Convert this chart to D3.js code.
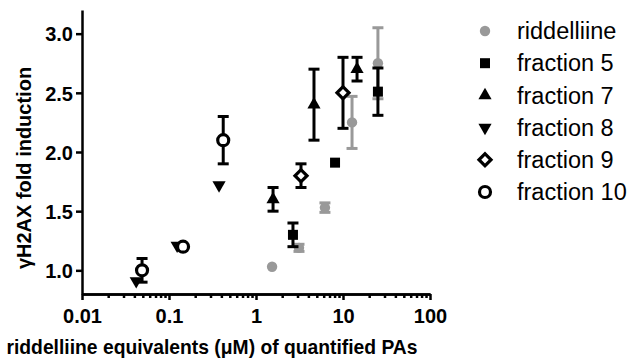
<!DOCTYPE html>
<html lang="en">
<head>
<meta charset="UTF-8">
<title>gH2AX fold induction</title>
<style>
    body { margin: 0; background: #fff; }
    svg text { font-family: "Liberation Sans", Arial, sans-serif; }
    .axis path, .axis line { fill: none; stroke: #000; stroke-width: 2.5px; }
    .axis text { font-size: 20px; font-weight: bold; fill: #000; }
</style>
</head>
<body>
<div id="chart"></div>
<script src="https://cdn.jsdelivr.net/npm/d3@7"></script>
<script>
// data
const seriesNames = ["riddelliine", "fraction 5", "fraction 7", "fraction 8", "fraction 9", "fraction 10"];

const riddX = [1.53, 3.12, 6.2, 12.7, 25.2];
const riddY = [1.03, 1.19, 1.53, 2.25, 2.75];
const riddErr = [0, 0.03, 0.04, 0.22, 0.3];

const f5X = [2.66, 8.1, 25.2];
const f5Y = [1.30, 1.91, 2.51];
const f5Err = [0.1, 0, 0.2];

const f7X = [1.57, 4.64, 14.5];
const f7Y = [1.60, 2.40, 2.70];
const f7Err = [0.1, 0.3, 0.1];

const f8X = [0.042, 0.124, 0.376];
const f8Y = [0.91, 1.21, 1.72];
const f8Err = [0, 0, 0];

const f9X = [3.29, 10.0];
const f9Y = [1.80, 2.50];
const f9Err = [0.1, 0.3];

const f10X = [0.049, 0.145, 0.42];
const f10Y = [1.00, 1.20, 2.10];
const f10Err = [0.1, 0, 0.2];

const xTicks = [0.01, 0.1, 1, 10, 100];
const yTicks = [1.0, 1.5, 2.0, 2.5, 3.0];

const W = 630, H = 364;
const svg = d3.select("#chart").append("svg").attr("width", W).attr("height", H);

const x = d3.scaleLog().domain([0.01, 100]).range([82, 430]);
const y = d3.scaleLinear().domain([0.8, 3.2]).range([294, 10]);

// axes
const minor = [];
for (let d = 0.01; d < 100; d *= 10) {
    for (let k = 2; k <= 9; k++) minor.push(+(d * k).toPrecision(3));
}
svg.append("g").attr("class", "axis").attr("transform", "translate(0,294)")
    .call(d3.axisBottom(x).tickValues(minor).tickSize(4).tickFormat("").tickSizeOuter(0));
const gx = svg.append("g").attr("class", "axis").attr("transform", "translate(0,294)")
    .call(d3.axisBottom(x).tickValues(xTicks).tickSize(6).tickSizeOuter(0)
        .tickFormat(d => String(d)));
gx.selectAll("text").attr("dy", "1.0em").attr("y", 9);

const gy = svg.append("g").attr("class", "axis").attr("transform", "translate(82,0)")
    .call(d3.axisLeft(y).tickValues(yTicks).tickSize(6).tickSizeOuter(0).tickFormat(d3.format(".1f")));
gy.selectAll("text").attr("x", -9).attr("dy", "0.36em");

svg.append("text").attr("x", 212).attr("y", 354).attr("text-anchor", "middle")
    .attr("font-size", 19.3).attr("font-weight", "bold")
    .text("riddelliine equivalents (\u03BCM) of quantified PAs");
svg.append("text").attr("transform", "translate(31,168) rotate(-90)")
    .attr("text-anchor", "middle").attr("font-size", 20).attr("font-weight", "bold")
    .text("\u03B3H2AX fold induction");

// series
const gray = "#999999";
const series = [
    { name: seriesNames[0], xs: riddX, ys: riddY, es: riddErr, type: d3.symbolCircle, size: 85, rot: 0, color: gray, open: false },
    { name: seriesNames[1], xs: f5X, ys: f5Y, es: f5Err, type: d3.symbolSquare, size: 100, rot: 0, color: "#000", open: false },
    { name: seriesNames[2], xs: f7X, ys: f7Y, es: f7Err, type: d3.symbolTriangle, size: 75, rot: 0, color: "#000", open: false },
    { name: seriesNames[3], xs: f8X, ys: f8Y, es: f8Err, type: d3.symbolTriangle, size: 75, rot: 180, color: "#000", open: false },
    { name: seriesNames[4], xs: f9X, ys: f9Y, es: f9Err, type: d3.symbolSquare, size: 72, rot: 45, color: "#000", open: true },
    { name: seriesNames[5], xs: f10X, ys: f10Y, es: f10Err, type: d3.symbolCircle, size: 95, rot: 0, color: "#000", open: true }
];

function drawMarker(g, s) {
    g.append("path").attr("d", d3.symbol().type(s.type).size(s.size)())
        .attr("transform", `rotate(${s.rot})`)
        .attr("fill", s.open ? "#fff" : s.color)
        .attr("stroke", s.open ? s.color : "none")
        .attr("stroke-width", 3.2);
}

series.forEach(s => {
    const g = svg.append("g");
    s.xs.forEach((xv, i) => {
        const cx = x(xv), cy = y(s.ys[i]), e = s.es[i];
        const pg = g.append("g");
        if (e > 0) {
            const y0 = y(s.ys[i] - e), y1 = y(s.ys[i] + e);
            pg.append("line").attr("x1", cx).attr("x2", cx).attr("y1", y0).attr("y2", y1)
                .attr("stroke", s.color).attr("stroke-width", 3);
            [y0, y1].forEach(yy => pg.append("line").attr("x1", cx - 5.5).attr("x2", cx + 5.5)
                .attr("y1", yy).attr("y2", yy).attr("stroke", s.color).attr("stroke-width", 3));
        }
        const mg = pg.append("g").attr("transform", `translate(${cx},${cy})`);
        drawMarker(mg, s);
    });
});

// legend
const lg = svg.append("g");
series.forEach((s, i) => {
    const ly = 31 + i * 32.2;
    const mg = lg.append("g").attr("transform", `translate(485,${ly})`);
    drawMarker(mg, s);
    lg.append("text").attr("x", 517).attr("y", ly).attr("dy", "0.35em")
        .attr("font-size", 23.5).text(s.name);
});
</script>
</body>
</html>
